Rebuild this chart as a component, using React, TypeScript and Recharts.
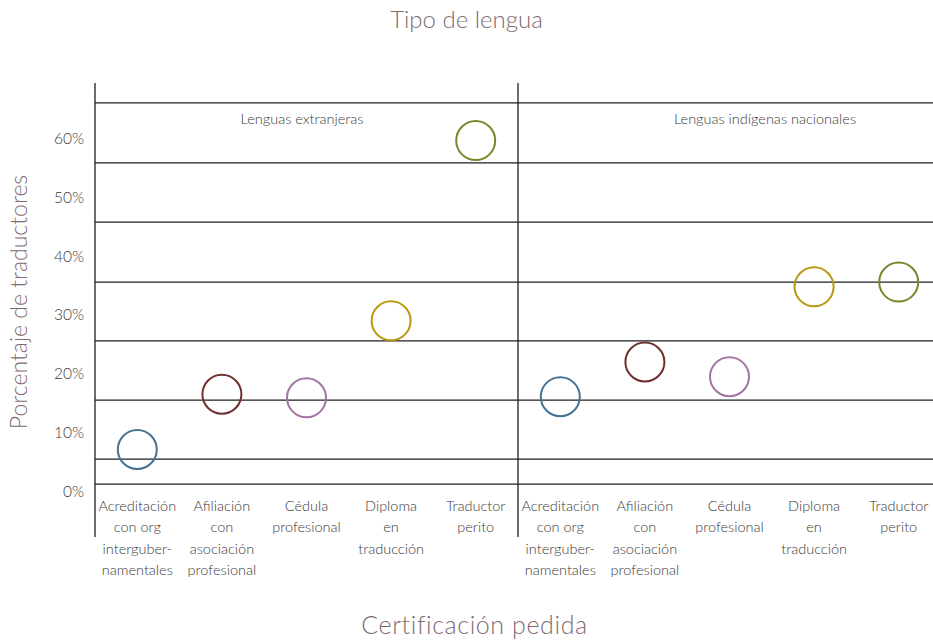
import React from 'react';
import {
  ComposedChart,
  Scatter,
  XAxis,
  YAxis,
  ReferenceLine,
} from 'recharts';

// Certificación pedida, por tipo de lengua
const panels = ['Lenguas extranjeras', 'Lenguas indígenas nacionales'];

const certificaciones = [
  ['Acreditación', 'con org', 'interguber-', 'namentales'],
  ['Afiliación', 'con', 'asociación', 'profesional'],
  ['Cédula', 'profesional'],
  ['Diploma', 'en', 'traducción'],
  ['Traductor', 'perito'],
];

// porcentaje de traductores
const extranjeras = [7.1, 16.5, 15.9, 29.0, 59.7];
const indigenas = [16.1, 22.0, 19.5, 34.8, 35.6];

const yTicks = [0, 10, 20, 30, 40, 50, 60];
// horizontal rules (the lowest one is the axis)
const gridValues = [1.2, 5.45, 15.5, 25.6, 35.6, 45.8, 55.9, 66.1];

const colors = ['#467394', '#6e302e', '#a274a2', '#b8980f', '#728a2c'];

const data = [...extranjeras, ...indigenas].map((value, i) => ({
  pos: i,
  cat: i % certificaciones.length,
  value,
}));

const FONT = 'Lato, "Open Sans", sans-serif';
const TEXT = '#3a3a3a';
const TITLE = '#806a72';
const LINE = '#1e1e1e';

const CertTick = (props: any) => {
  const { x, y, payload } = props;
  const lines = certificaciones[payload.value % certificaciones.length];
  return (
    <text x={x} y={y + 11} textAnchor="middle" fill={TEXT} fontSize={14.5} fontFamily={FONT} fontWeight={300}>
      {lines.map((l, i) => (
        <tspan key={i} x={x} dy={i === 0 ? 0 : 21.3}>
          {l}
        </tspan>
      ))}
    </text>
  );
};

const Ring = (props: any) => {
  const { cx, cy, payload } = props;
  return <circle cx={cx} cy={cy} r={19.5} fill="none" stroke={colors[payload.cat]} strokeWidth={2} />;
};

const hLine = (p: any) => (
  <line x1={p.x1} y1={p.y1} x2={p.x2} y2={p.y2} stroke={LINE} strokeWidth={1.3} />
);

const longLine = (p: any) => (
  <line
    x1={p.x1}
    y1={Math.min(p.y1, p.y2)}
    x2={p.x2}
    y2={Math.max(p.y1, p.y2) + 37}
    stroke={LINE}
    strokeWidth={1.3}
  />
);

export default function App() {
  return (
    <div
      style={{
        position: 'fixed',
        top: 0,
        left: 0,
        width: 933,
        height: 642,
        overflow: 'hidden',
        background: '#fff',
        fontFamily: FONT,
      }}
    >
      <ComposedChart width={950} height={642} data={data} margin={{ top: 83, right: 9, bottom: 0, left: 0 }}>
        <XAxis
          type="number"
          dataKey="pos"
          domain={[-0.5, 9.5]}
          ticks={data.map((d) => d.pos)}
          interval={0}
          axisLine={false}
          tickLine={false}
          tickSize={0}
          tickMargin={0}
          height={142}
          tick={<CertTick />}
        />
        <YAxis
          type="number"
          dataKey="value"
          domain={[-1.5, 69.5]}
          ticks={yTicks}
          allowDataOverflow
          width={95}
          axisLine={false}
          tickLine={false}
          tickSize={0}
          tickMargin={11}
          tickFormatter={(v: number) => `${v}%`}
          tick={{ fill: TEXT, fontSize: 15.5, fontFamily: FONT, fontWeight: 300 }}
        />
        {gridValues.map((g) => (
          <ReferenceLine key={`g${g}`} y={g} shape={hLine} />
        ))}
        <ReferenceLine key="left" x={-0.5} shape={longLine} />
        <ReferenceLine key="sep" x={4.5} shape={longLine} />
        <Scatter dataKey="value" shape={<Ring />} isAnimationActive={false} />
      </ComposedChart>

      <div style={{ position: 'absolute', left: 0, width: 933, top: 4, textAlign: 'center', fontSize: 24, color: TITLE, fontWeight: 300 }}>
        Tipo de lengua
      </div>
      <div style={{ position: 'absolute', left: 8, width: 933, top: 609, textAlign: 'center', fontSize: 25, color: TITLE, fontWeight: 300, letterSpacing: 0.6 }}>
        Certificación pedida
      </div>
      <div
        style={{
          position: 'absolute',
          left: 18,
          top: 302,
          transform: 'translate(-50%, -50%) rotate(-90deg)',
          whiteSpace: 'nowrap',
          fontSize: 23,
          color: TITLE,
          fontWeight: 300,
        }}
      >
        Porcentaje de traductores
      </div>
      <div style={{ position: 'absolute', left: 202, width: 200, top: 110, textAlign: 'center', fontSize: 14.5, color: TEXT, fontWeight: 300 }}>
        {panels[0]}
      </div>
      <div style={{ position: 'absolute', left: 615, width: 300, top: 110, textAlign: 'center', fontSize: 14.5, color: TEXT, fontWeight: 300 }}>
        {panels[1]}
      </div>
    </div>
  );
}
